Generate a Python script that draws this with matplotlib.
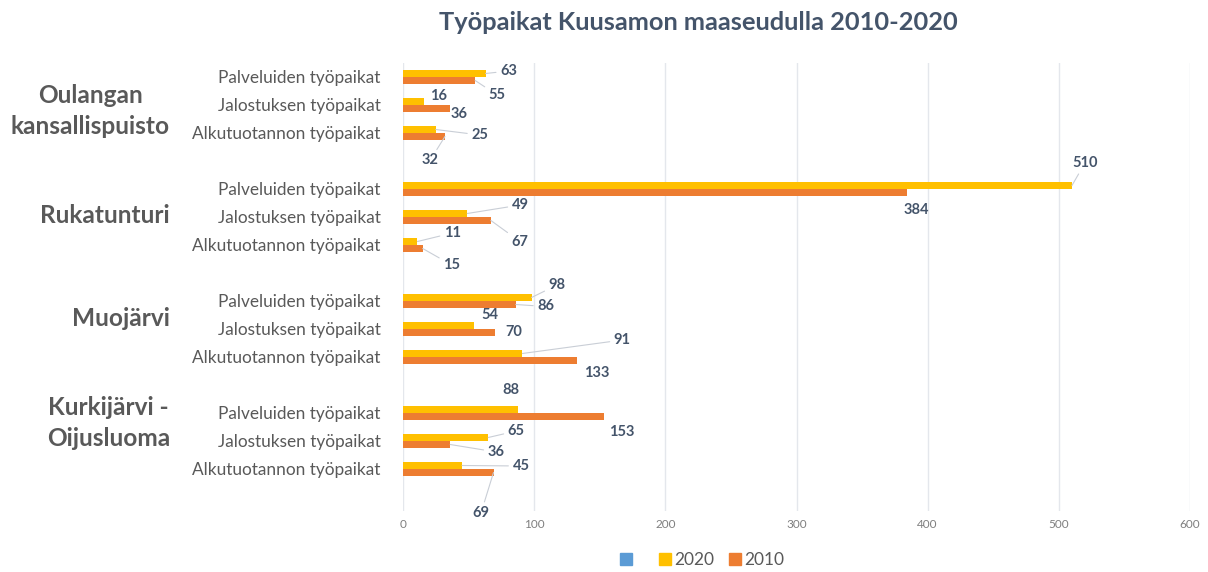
import matplotlib
matplotlib.use("Agg")
import matplotlib.pyplot as plt
import numpy as np
from matplotlib.patches import Patch

plt.rcParams['font.family'] = ['Lato', 'DejaVu Sans']

# data
areas = ["Oulangan\nkansallispuisto", "Rukatunturi", "Muojärvi", "Kurkijärvi -\nOijusluoma"]
job_types = ["Palveluiden työpaikat", "Jalostuksen työpaikat", "Alkutuotannon työpaikat"]
jobs_2020 = [[63, 16, 25], [510, 49, 11], [98, 54, 91], [88, 65, 45]]
jobs_2010 = [[55, 36, 32], [384, 67, 15], [86, 70, 133], [153, 36, 69]]
xticks = [0, 100, 200, 300, 400, 500, 600]

# label placement (pixels from bar end: dx right, dy down) and leader line flag
off_2020 = [[(23, -2.5), (15, -5), (44, 5.5)],
            [(13, -22.5), (53, -8.5), (35, -8.5)],
            [(25.5, -12.5), (16, -10.5), (100, -13.5)],
            [(-8, -19.5), (28, -6.5), (59, 0.5)]]
off_2010 = [[(22, 14.5), (9, 5.5), (-15, 24)],
            [(10, 17.5), (29, 21), (29, 16.5)],
            [(30, 2), (19, 0), (19.5, 12.5)],
            [(18, 15.5), (46, 7.5), (-12.5, 40.5)]]
lead_2020 = [[1, 0, 1], [1, 1, 1], [1, 0, 1], [0, 1, 1]]
lead_2010 = [[1, 0, 1], [0, 1, 1], [1, 0, 0], [0, 1, 1]]
area_y_shift = [0.21, -0.07, -0.39, -0.64]

YELLOW = "#FFC000"
ORANGE = "#ED7D31"
BLUE = "#5B9BD5"
LABEL_C = "#44546A"
TEXT_C = "#595959"

fig = plt.figure(figsize=(12.08, 5.72), dpi=100)
ax = fig.add_axes([403/1208, 1 - 511/572, 787/1208, 448/572])

rows = []
names = []
for g in range(len(areas)):
    for i in range(len(job_types)):
        rows.append(g * 4 + i)
        names.append(job_types[i])
rows = np.array(rows)
v20 = np.array(jobs_2020).ravel()
v10 = np.array(jobs_2010).ravel()
o20 = [o for grp in off_2020 for o in grp]
o10 = [o for grp in off_2010 for o in grp]
l20 = [l for grp in lead_2020 for l in grp]
l10 = [l for grp in lead_2010 for l in grp]

h = 0.25
ax.barh(rows - h / 2, v20, height=h, color=YELLOW, zorder=3)
ax.barh(rows + h / 2, v10, height=h, color=ORANGE, zorder=3)

def put_label(x, y, val, off, lead):
    dx, dy = off
    props = None
    if lead:
        props = dict(arrowstyle='-', color="#C9CED6", lw=0.8, shrinkA=1, shrinkB=0)
    ax.annotate(str(val), xy=(x, y), xytext=(dx * 0.72, -dy * 0.72),
                textcoords='offset points', ha='center', va='center',
                fontsize=10.5, fontweight='bold', color=LABEL_C,
                arrowprops=props, zorder=4)

for k in range(len(rows)):
    put_label(v20[k], rows[k] - h / 2, v20[k], o20[k], l20[k])
    put_label(v10[k], rows[k] + h / 2, v10[k], o10[k], l10[k])

ax.set_xlim(0, 600)
ax.set_ylim(15.5, -0.5)
ax.set_xticks(xticks)
ax.set_xticklabels([str(t) for t in xticks])
ax.set_yticks(rows)
ax.set_yticklabels(names)
ax.tick_params(axis='y', length=0, pad=16, labelsize=12.4, labelcolor=TEXT_C)
ax.tick_params(axis='x', length=0, pad=6, labelsize=8.5, labelcolor="#7F7F7F")
ax.grid(axis='x', color="#E4E7EC", lw=1, zorder=0)
for s in ax.spines.values():
    s.set_visible(False)

trans = ax.get_yaxis_transform()
for g, name in enumerate(areas):
    ax.text(-233 / 787, g * 4 + 1 + area_y_shift[g], name, transform=trans,
            ha='right', va='center', multialignment='center',
            fontsize=17.6, fontweight='bold', color=TEXT_C, linespacing=1.4)

fig.text(698 / 1208, 1 - 22 / 572, "Työpaikat Kuusamon maaseudulla 2010-2020",
         ha='center', va='center', fontsize=18.3, fontweight='bold', color=LABEL_C)

handles = [Patch(color=BLUE), Patch(color=YELLOW), Patch(color=ORANGE)]
fig.legend(handles, ["  ", "2020", "2010"], loc='center', ncol=3,
           bbox_to_anchor=(702 / 1208, 1 - 560 / 572), frameon=False,
           fontsize=12.5, handlelength=0.7, handleheight=0.7,
           handletextpad=0.15, columnspacing=0.87, labelcolor=TEXT_C)

fig.savefig("out.png", dpi=100)
